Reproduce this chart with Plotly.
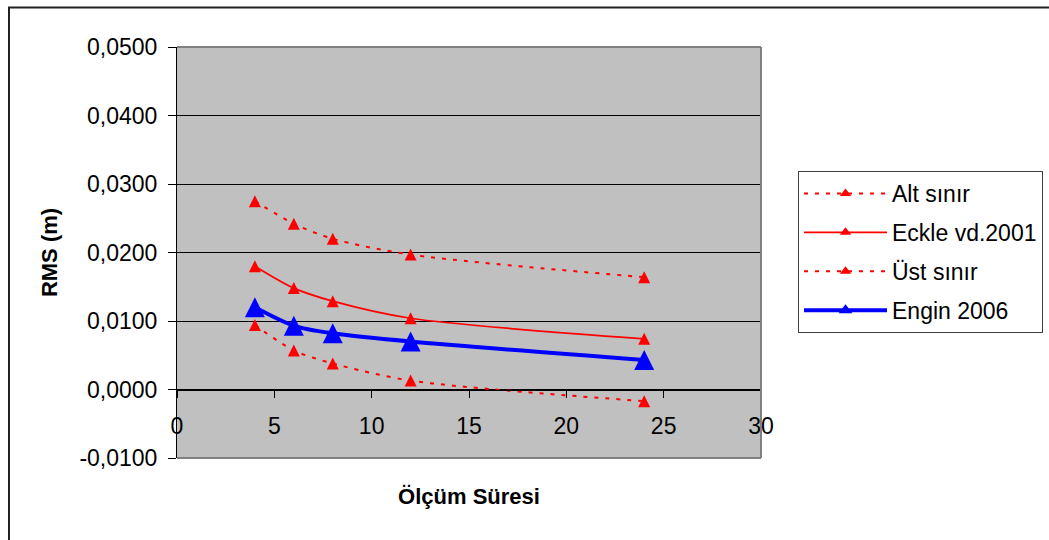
import plotly.graph_objects as go

# Measurement durations (hours) and RMS values (m)
sure = [4, 6, 8, 12, 24]
alt_sinir = [0.0094, 0.0057, 0.0038, 0.0013, -0.0017]
eckle_2001 = [0.0180, 0.0148, 0.0129, 0.0104, 0.0074]
ust_sinir = [0.0275, 0.0242, 0.0220, 0.0197, 0.0164]
engin_2006 = [0.0120, 0.0093, 0.0082, 0.0070, 0.0043]

series_names = ["Alt sınır", "Eckle vd.2001", "Üst sınır", "Engin 2006"]

y_tick_vals = [-0.01, 0.0, 0.01, 0.02, 0.03, 0.04, 0.05]
y_tick_text = ["-0,0100", "0,0000", "0,0100", "0,0200", "0,0300", "0,0400", "0,0500"]
x_tick_vals = [0, 5, 10, 15, 20, 25, 30]

FONT = "Liberation Sans, Arial, sans-serif"
RED = "#FF0000"
BLUE = "#0000FF"
DOT = "4px,7px"

styles = [
    dict(line=dict(color=RED, width=2, dash=DOT), size=12, lsize=10, color=RED),
    dict(line=dict(color=RED, width=1.7), size=12, lsize=10, color=RED),
    dict(line=dict(color=RED, width=2, dash=DOT), size=12, lsize=10, color=RED),
    dict(line=dict(color=BLUE, width=4), size=20, lsize=12, color=BLUE),
]


def tri(size, color):
    # upright triangle as tall as it is wide, centred on the point
    return dict(symbol="arrow-down", angle=180, standoff=size / 2,
                size=size, color=color, line=dict(width=0))


fig = go.Figure()
for name, values, st in zip(series_names,
                            [alt_sinir, eckle_2001, ust_sinir, engin_2006],
                            styles):
    fig.add_trace(go.Scatter(
        x=sure, y=values, name=name, mode="lines+markers", showlegend=False,
        line=dict(**st["line"], shape="spline", smoothing=0.8),
        marker=tri(st["size"], st["color"])))

# legend keys
for i, (name, st) in enumerate(zip(series_names, styles)):
    fig.add_trace(go.Scatter(
        x=[None], y=[None], name=name, mode="lines+markers",
        legendgroup=f"g{i}", line=st["line"],
        marker=dict(symbol="triangle-up", size=st["lsize"], color=st["color"],
                    line=dict(width=0))))

L, R, T, B = 177, 288, 47, 82
W, H = 1049, 540
pw, ph = W - L - R, H - T - B


def px_x(p):
    return (p - L) / pw


def px_y(p):
    return (H - B - p) / ph


shapes = [
    # plot-area frame (top, right, bottom)
    dict(type="line", xref="paper", yref="paper", x0=0, x1=1, y0=1, y1=1,
         line=dict(color="#808080", width=2)),
    dict(type="line", xref="paper", yref="paper", x0=1, x1=1, y0=0, y1=1,
         line=dict(color="#808080", width=2)),
    dict(type="line", xref="paper", yref="paper", x0=0, x1=1, y0=0, y1=0,
         line=dict(color="#808080", width=2)),
    # chart border
    dict(type="rect", xref="paper", yref="paper",
         x0=px_x(9), x1=px_x(W + 20), y0=px_y(H + 20), y1=px_y(7.5),
         line=dict(color="#222222", width=2), fillcolor="rgba(0,0,0,0)"),
]

fig.update_layout(
    width=W, height=H, autosize=False,
    margin=dict(l=L, r=R, t=T, b=B, pad=0, autoexpand=False),
    paper_bgcolor="white", plot_bgcolor="#C0C0C0",
    font=dict(family=FONT, size=23, color="black"),
    separators=", ",
    showlegend=True,
    legend=dict(
        x=px_x(798), y=px_y(171), xanchor="left", yanchor="top",
        bgcolor="white", bordercolor="#404040", borderwidth=1,
        font=dict(family=FONT, size=23, color="black"),
        traceorder="grouped", tracegroupgap=6, itemwidth=83,
    ),
    xaxis=dict(
        range=[0, 30], tickvals=x_tick_vals, ticks="outside", ticklen=7,
        tickcolor="black", showline=True, linecolor="black", linewidth=1,
        showgrid=False, zeroline=False, anchor="free", position=1 / 6,
        tickfont=dict(size=23), ticklabelstandoff=9, fixedrange=True,
        title=dict(text="<b>Ölçüm Süresi</b>", font=dict(size=22), standoff=50),
    ),
    yaxis=dict(
        range=[-0.01, 0.05], tickvals=y_tick_vals, ticktext=y_tick_text,
        ticks="outside", ticklen=8, tickcolor="black",
        showline=True, linecolor="black", linewidth=1,
        showgrid=True, gridcolor="black", gridwidth=1, zeroline=False,
        tickfont=dict(size=23), ticklabelstandoff=6, fixedrange=True,
        title=dict(text="<b>RMS (m)</b>", font=dict(size=22), standoff=15),
    ),
    shapes=shapes,
)

fig.write_html("out.html")
